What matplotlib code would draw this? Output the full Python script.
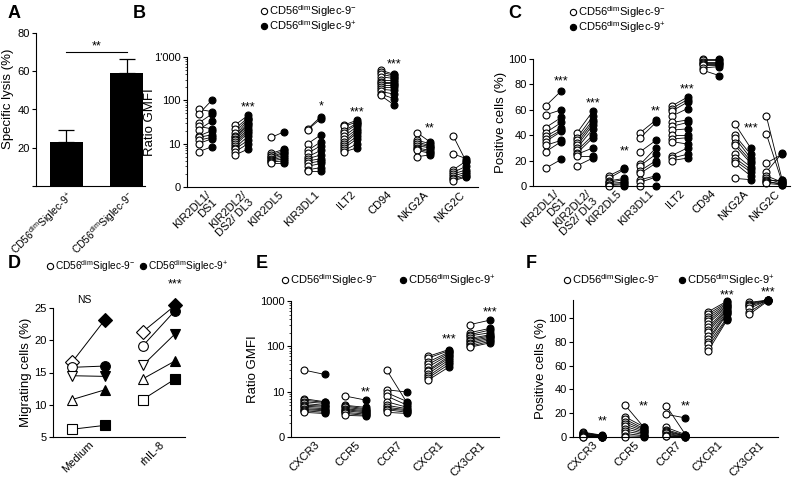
import matplotlib
matplotlib.use('Agg')
import matplotlib.pyplot as plt
from matplotlib.lines import Line2D
from matplotlib.ticker import LogLocator, NullFormatter

plt.rcParams['font.family'] = ['Liberation Sans', 'DejaVu Sans']
plt.rcParams['mathtext.fontset'] = 'custom'
plt.rcParams['mathtext.rm'] = 'Liberation Sans'
plt.rcParams['mathtext.it'] = 'Liberation Sans:italic'

NEG = 'CD56$^{\\mathrm{dim}}$Siglec-9$^{-}$'
POS = 'CD56$^{\\mathrm{dim}}$Siglec-9$^{+}$'

# ---- data ----
a_groups = [POS, NEG]
a_lysis = [23, 59]
a_err = [6.5, 7.5]

b_cats = ['KIR2DL1/\nDS1', 'KIR2DL2/\nDS2/ DL3', 'KIR2DL5', 'KIR3DL1', 'ILT2', 'CD94', 'NKG2A', 'NKG2C']
b_neg = [
    [62, 48, 30, 25, 21, 15, 14, 12, 10, 6.5],
    [27, 22, 18, 15, 14, 13, 12, 11, 10, 9, 8, 7.5, 6.5, 5.5],
    [14, 6, 5.5, 5, 4.8, 4.5, 4.2, 4, 3.8, 3.5],
    [22, 21, 10, 7, 6, 5, 4.5, 4, 3.5, 3, 2.5, 2.3],
    [27, 25, 20, 18, 15, 13, 11, 10, 9, 8, 7, 6.5],
    [500, 450, 400, 350, 300, 270, 250, 220, 200, 180, 160, 140, 130],
    [18, 12, 11, 10, 9, 8, 7.5, 7, 5],
    [15, 5.8, 2.5, 2.2, 2, 1.8, 1.6, 1.5, 1.4],
]
b_pos = [
    [55, 100, 48, 22, 33, 20, 16, 14, 13, 8.5],
    [45, 40, 38, 35, 30, 28, 25, 22, 20, 18, 15, 12, 10, 7.5],
    [19, 7.5, 7, 6.5, 6, 5.5, 5, 4.5, 4, 3.5],
    [42, 38, 16, 11, 9, 7, 5.5, 4.5, 4, 3.5, 2.8, 2.3],
    [35, 32, 30, 28, 25, 22, 20, 18, 15, 13, 10, 8],
    [400, 380, 350, 320, 300, 270, 240, 220, 200, 170, 140, 110, 80],
    [11, 10, 9, 8.5, 8, 7, 6.5, 6, 5.5],
    [3.8, 4.5, 4, 3, 2.5, 2.2, 2, 1.8, 1.7],
]
b_stars = {1: ('***', 67), 3: ('*', 74), 4: ('***', 52), 5: ('***', 680), 6: ('**', 22)}

c_neg = [
    [63, 56, 46, 42, 39, 37, 35, 32, 27, 14],
    [42, 38, 36, 34, 32, 30, 28, 26, 25, 24, 16],
    [8, 6, 4, 3, 2, 1, 0.5, 0],
    [42, 38, 27, 17, 16, 12, 10, 5, 3, 0],
    [63, 61, 59, 55, 50, 47, 44, 40, 37, 35, 24, 22, 20],
    [100, 99, 98, 97, 96, 95, 93, 91],
    [49, 40, 38, 34, 32, 25, 22, 20, 18, 6],
    [55, 41, 18, 11, 8, 6, 5, 4, 3, 2],
]
c_pos = [
    [75, 60, 54, 50, 46, 44, 43, 36, 35, 21],
    [59, 55, 52, 50, 48, 45, 40, 38, 30, 24, 22],
    [14, 13, 6, 5, 3, 2, 1, 0],
    [52, 50, 36, 30, 25, 20, 18, 8, 7, 0],
    [70, 68, 66, 61, 52, 50, 45, 40, 38, 33, 30, 25, 22],
    [100, 99, 98, 97, 96, 95, 94, 87],
    [30, 25, 22, 20, 18, 15, 13, 11, 8, 5],
    [5, 3, 25, 26, 3, 2, 5, 1, 2, 1],
]
c_stars = {0: ('***', 82), 1: ('***', 65), 2: ('**', 27), 3: ('**', 59), 4: ('***', 76), 6: ('***', 45)}

d_conditions = ['Medium', 'rhIL-8']
d_markers = ['D', 'o', 'v', '^', 's']
d_neg = [[16.6, 15.8, 14.5, 10.8, 6.2], [21.3, 19.1, 16.1, 14.0, 10.8]]
d_pos = [[23.1, 16.0, 14.4, 12.3, 6.8], [25.4, 24.6, 21.0, 16.8, 14.0]]

e_cats = ['CXCR3', 'CCR5', 'CCR7', 'CXCR1', 'CX3CR1']
e_neg = [
    [30, 7, 6.5, 6, 5.5, 5, 4.8, 4.5, 4.2, 4, 3.8, 3.5],
    [8, 5, 4.8, 4.5, 4.2, 4, 3.8, 3.5, 3.3, 3.0],
    [30, 11, 9.5, 8, 6, 5, 4.5, 4.2, 4, 3.5],
    [60, 55, 45, 40, 35, 30, 28, 25, 22, 20, 18],
    [300, 200, 180, 170, 150, 140, 130, 120, 110, 100, 95],
]
e_pos = [
    [24, 6, 5.8, 5.5, 5, 4.8, 4.5, 4.2, 4, 3.8, 3.5, 3.3],
    [6.5, 4.5, 4.2, 4, 3.8, 3.6, 3.4, 3.2, 3.0, 2.9],
    [5.5, 9.8, 6, 5, 4.5, 4.2, 4, 3.8, 3.5, 3.3],
    [85, 80, 75, 70, 65, 60, 55, 50, 45, 40, 35],
    [380, 250, 230, 200, 180, 170, 160, 150, 140, 130, 120],
]
e_stars = {1: ('**', 9.6), 3: ('***', 143), 4: ('***', 560)}

f_neg = [
    [4, 3.5, 3, 2.5, 2, 1.5, 1, 0.5, 0.3, 0.2],
    [27, 17, 15, 13, 11, 9, 7, 5, 3, 1, 0],
    [26, 19, 8, 6, 5, 4, 3, 2, 1, 0.5],
    [105, 103, 101, 99, 97, 95, 92, 90, 88, 85, 82, 80, 78, 75, 72],
    [113, 112, 111, 110, 108, 105, 103],
]
f_pos = [
    [1.5, 1.2, 1, 0.8, 0.5, 0.3, 0.2, 0.1, 0.1, 0],
    [8, 8.5, 7, 6, 5, 4, 3, 2, 1, 0.5, 0],
    [2, 16, 2, 1.5, 1, 1, 0.5, 0.3, 0.2, 0.1],
    [114, 113, 112, 111, 110, 109, 108, 107, 106, 105, 104, 103, 100, 99, 98],
    [115, 115, 115, 114.5, 115, 115, 114.5],
]
f_stars = {0: ('**', 13), 1: ('**', 25.5), 2: ('**', 25.5), 3: ('***', 119), 4: ('***', 121)}

W, H = 792, 484


def box(l, r, t, b):
    return [l / W, 1 - b / H, (r - l) / W, (b - t) / H]


def style(ax):
    for s in ['top', 'right']:
        ax.spines[s].set_visible(False)
    ax.spines['left'].set_linewidth(0.8)
    ax.spines['bottom'].set_linewidth(0.8)
    ax.tick_params(axis='y', direction='out', length=3, width=0.8, labelsize=8, pad=1.5)
    ax.tick_params(axis='x', length=0, labelsize=8, pad=2)


def paired(ax, neg, pos, off, stars, ms=5):
    for i, (o, f) in enumerate(zip(neg, pos)):
        for a, b in zip(o, f):
            ax.plot([i - off, i + off], [a, b], color='black', lw=0.6, zorder=1, clip_on=False)
        ax.plot([i - off] * len(o), o, 'o', ms=ms, mfc='white', mec='black', mew=0.8, ls='none',
                zorder=2, clip_on=False)
        ax.plot([i + off] * len(f), f, 'o', ms=ms, mfc='black', mec='black', mew=0.8, ls='none',
                zorder=3, clip_on=False)
    for i, (s, y) in stars.items():
        ax.text(i + off, y, s, ha='center', va='center', fontsize=9)


def legend_item(x, y, filled, text, size=8):
    fig.add_artist(Line2D([x / W], [1 - y / H], ls='none', marker='o', ms=4.5,
                          mfc='black' if filled else 'white', mec='black', mew=0.8,
                          transform=fig.transFigure))
    fig.text((x + 5) / W, 1 - y / H, text, va='center', ha='left', fontsize=size)


def xlabels(ax, labels, size=8):
    ax.set_xticks(range(len(labels)))
    ax.set_xticklabels(labels, rotation=45, ha='right', rotation_mode='anchor', fontsize=size,
                       linespacing=1.0)


def log_axis(ax, top_label):
    ax.set_yscale('log')
    ax.set_ylim(1, 1000)
    ax.set_yticks([1, 10, 100, 1000])
    ax.set_yticklabels(['0', '10', '100', top_label])
    ax.yaxis.set_minor_locator(LogLocator(base=10, subs=range(2, 10)))
    ax.yaxis.set_minor_formatter(NullFormatter())
    ax.tick_params(axis='y', which='minor', length=1.5, width=0.5)


fig = plt.figure(figsize=(7.92, 4.84), dpi=100)

# panel letters
for lab, x, y in [('A', 8, 14), ('B', 133, 14), ('C', 508, 14), ('D', 8, 263), ('E', 256, 263), ('F', 526, 263)]:
    fig.text(x / W, 1 - y / H, lab, fontsize=13, fontweight='bold', va='center', ha='left')

# A
ax = fig.add_axes(box(36, 145, 33, 186))
style(ax)
ax.bar([0, 1], a_lysis, width=0.55, color='black')
ax.errorbar([0, 1], a_lysis, yerr=[[0, 0], a_err], fmt='none', ecolor='black', capsize=6,
            elinewidth=0.9, capthick=0.9)
ax.set_ylim(0, 80)
ax.set_xlim(-0.5, 1.3)
ax.set_yticks([0, 20, 40, 60, 80])
ax.set_yticklabels(['', '20', '40', '60', '80'])
ax.set_ylabel('Specific lysis (%)', fontsize=9.5)
ax.yaxis.set_label_coords(-0.2, 0.57)
ax.plot([0, 1], [70, 70], color='black', lw=0.8)
ax.text(0.5, 73, '**', ha='center', va='center', fontsize=9)
xlabels(ax, a_groups, size=7.5)

# B
ax = fig.add_axes(box(187, 478, 57, 187))
style(ax)
log_axis(ax, "1'000")
paired(ax, b_neg, b_pos, 0.18, b_stars)
ax.set_xlim(-0.5, 7.5)
ax.set_ylabel('Ratio GMFI', fontsize=9.5)
ax.yaxis.set_label_coords(-0.105, 0.5)
xlabels(ax, b_cats)
legend_item(264, 11, False, NEG)
legend_item(264, 26, True, POS)

# C
ax = fig.add_axes(box(533, 790, 59, 186))
style(ax)
paired(ax, c_neg, c_pos, 0.25, c_stars)
ax.set_ylim(0, 100)
ax.set_yticks([0, 20, 40, 60, 80, 100])
ax.set_xlim(-0.65, 7.5)
ax.set_ylabel('Positive cells (%)', fontsize=9.5)
ax.yaxis.set_label_coords(-0.1, 0.5)
xlabels(ax, b_cats)
legend_item(573, 12, False, NEG)
legend_item(573, 27, True, POS)

# D
ax = fig.add_axes(box(53, 185, 308, 437))
style(ax)
for i in range(2):
    for k, m in enumerate(d_markers):
        ax.plot([i - 0.23, i + 0.23], [d_neg[i][k], d_pos[i][k]], color='black', lw=0.7, zorder=1)
        ax.plot(i - 0.23, d_neg[i][k], marker=m, ms=7, mfc='white', mec='black', mew=0.8,
                ls='none', clip_on=False)
        ax.plot(i + 0.23, d_pos[i][k], marker=m, ms=7, mfc='black', mec='black', mew=0.8,
                ls='none', clip_on=False)
ax.set_ylim(5, 25)
ax.set_yticks([5, 10, 15, 20, 25])
ax.set_xlim(-0.5, 1.37)
ax.set_ylabel('Migrating cells (%)', fontsize=9.5, labelpad=2)
ax.text(-0.05, 26.3, 'NS', ha='center', va='center', fontsize=7.5)
ax.text(1.23, 28.6, '***', ha='center', va='center', fontsize=9)
xlabels(ax, d_conditions)
legend_item(50, 266, False, NEG, size=7.3)
legend_item(143, 266, True, POS, size=7.3)

# E
ax = fig.add_axes(box(291, 499, 301, 437))
style(ax)
log_axis(ax, '1000')
paired(ax, e_neg, e_pos, 0.25, e_stars)
ax.set_xlim(-0.56, 4.46)
ax.set_ylabel('Ratio GMFI', fontsize=9.5, labelpad=1)
xlabels(ax, e_cats)
legend_item(285, 280, False, NEG)
legend_item(403, 280, True, POS)

# F
ax = fig.add_axes(box(573, 778, 300, 437))
style(ax)
paired(ax, f_neg, f_pos, 0.23, f_stars)
ax.set_ylim(0, 115)
ax.set_yticks([0, 20, 40, 60, 80, 100])
ax.set_xlim(-0.48, 4.46)
ax.set_ylabel('Positive cells (%)', fontsize=9.5, labelpad=1)
xlabels(ax, e_cats)
legend_item(567, 280, False, NEG)
legend_item(682, 280, True, POS)

fig.savefig('out.png', dpi=100)
